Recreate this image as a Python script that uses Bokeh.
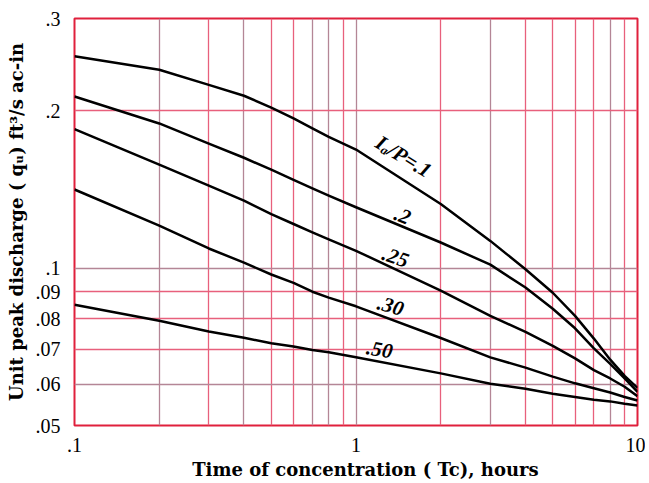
from bokeh.plotting import figure
from bokeh.models import Range1d, FixedTicker, Grid, ColumnDataSource
from bokeh.core.properties import value
from bokeh.embed import file_html
from bokeh.resources import INLINE

# ---- data ----
tc = [0.1, 0.2, 0.3, 0.4, 0.5, 0.6, 0.7, 0.8, 1.0, 2.0, 3.0, 4.0, 5.0, 6.0, 7.0, 8.0, 9.0, 10.0]
qu_01 = [0.2541, 0.2394, 0.2240, 0.2135, 0.2027, 0.1933, 0.1850, 0.1782, 0.1685,
         0.1326, 0.1127, 0.0995, 0.0897, 0.0810, 0.0733, 0.0668, 0.0622, 0.0590]
qu_02 = [0.2128, 0.1890, 0.1730, 0.1625, 0.1542, 0.1475, 0.1420, 0.1375, 0.1307,
         0.1119, 0.1015, 0.0918, 0.0836, 0.0767, 0.0702, 0.0656, 0.0615, 0.0580]
qu_025 = [0.1844, 0.1576, 0.1438, 0.1346, 0.1268, 0.1214, 0.1170, 0.1135, 0.1079,
          0.0905, 0.0810, 0.0755, 0.0710, 0.0672, 0.0638, 0.0615, 0.0593, 0.0569]
qu_030 = [0.1413, 0.1205, 0.1090, 0.1024, 0.0972, 0.0937, 0.0901, 0.0878, 0.0845,
          0.0735, 0.0675, 0.0645, 0.0620, 0.0602, 0.0589, 0.0578, 0.0567, 0.0558]
qu_050 = [0.0851, 0.0793, 0.0756, 0.0736, 0.0718, 0.0708, 0.0697, 0.0690, 0.0675,
          0.0629, 0.0601, 0.0588, 0.0575, 0.0567, 0.0560, 0.0556, 0.0550, 0.0546]
series = [qu_01, qu_02, qu_025, qu_030, qu_050]

curve_labels = ["Iₐ/P=.1", ".2", ".25", ".30", ".50"]
label_x = [1.476, 1.464, 1.382, 1.327, 1.212]
label_y = [0.1634, 0.1260, 0.1050, 0.0847, 0.0699]
label_angle = [-0.55, -0.38, -0.34, -0.28, -0.17]

x_ticks = [0.1, 1, 10]
x_tick_labels = [".1", "1", "10"]
y_ticks = [0.05, 0.06, 0.07, 0.08, 0.09, 0.1, 0.2, 0.3]
y_tick_labels = [".05", ".06", ".07", ".08", ".09", ".1", ".2", ".3"]

x_grid_a = [0.2, 0.4, 0.7, 0.8, 1, 3, 8]
x_grid_b = [0.3, 0.5, 0.6, 0.9, 2, 4, 5, 6, 7, 9]
y_grid_a = [0.06, 0.1]
y_grid_b = [0.07, 0.08, 0.09, 0.2]

SERIF = "Liberation Serif"
TITLE_FONT = "DejaVu Serif"

p = figure(width=645, height=482, x_axis_type="log", y_axis_type="log",
           x_range=Range1d(0.1, 10), y_range=Range1d(0.05, 0.3),
           output_backend="svg", toolbar_location=None,
           min_border_left=74, min_border_right=8, min_border_top=18, min_border_bottom=57)

p.background_fill_color = "white"
p.border_fill_color = "white"
p.outline_line_color = "#e0203c"
p.outline_line_width = 2
p.xgrid.visible = False
p.ygrid.visible = False

for ticks, col, dim in [(x_grid_a, "#b48696", 0), (x_grid_b, "#e8607c", 0),
                        (y_grid_a, "#b48696", 1), (y_grid_b, "#e8607c", 1)]:
    g = Grid(dimension=dim, ticker=FixedTicker(ticks=ticks),
             grid_line_color=col, grid_line_width=1.3)
    p.add_layout(g, "center")

for s in series:
    p.line(tc, s, line_color="black", line_width=2.5, line_join="round")

src = ColumnDataSource(dict(x=label_x, y=label_y, t=curve_labels, a=label_angle))
p.text(x="x", y="y", text="t", angle="a", source=src,
       text_font=value(SERIF), text_font_style="bold italic",
       text_font_size="21px", text_align="center", text_baseline="middle",
       text_color="black")

for ax in (p.xaxis[0], p.yaxis[0]):
    ax.axis_line_color = None
    ax.major_tick_line_color = None
    ax.minor_tick_line_color = None
    ax.major_label_text_font = SERIF
    ax.major_label_text_font_size = "20px"
    ax.major_label_text_color = "black"
    ax.axis_label_text_font = TITLE_FONT
    ax.axis_label_text_font_style = "bold"
    ax.axis_label_text_font_size = "18px"
    ax.axis_label_text_color = "black"

p.xaxis.ticker = FixedTicker(ticks=x_ticks)
p.xaxis.major_label_overrides = dict(zip(x_ticks, x_tick_labels))
p.yaxis.ticker = FixedTicker(ticks=y_ticks)
p.yaxis.major_label_overrides = dict(zip(y_ticks, y_tick_labels))
p.xaxis.major_label_standoff = 6
p.yaxis.major_label_standoff = 8
p.xaxis.axis_label = "\u00a0\u00a0\u00a0Time of concentration ( Tc), hours"
p.yaxis.axis_label = "Unit peak discharge ( qᵤ) ft³/s ac-in"
p.xaxis.axis_label_standoff = 4
p.yaxis.axis_label_standoff = 6

open("out.html", "w").write(file_html(p, INLINE))
